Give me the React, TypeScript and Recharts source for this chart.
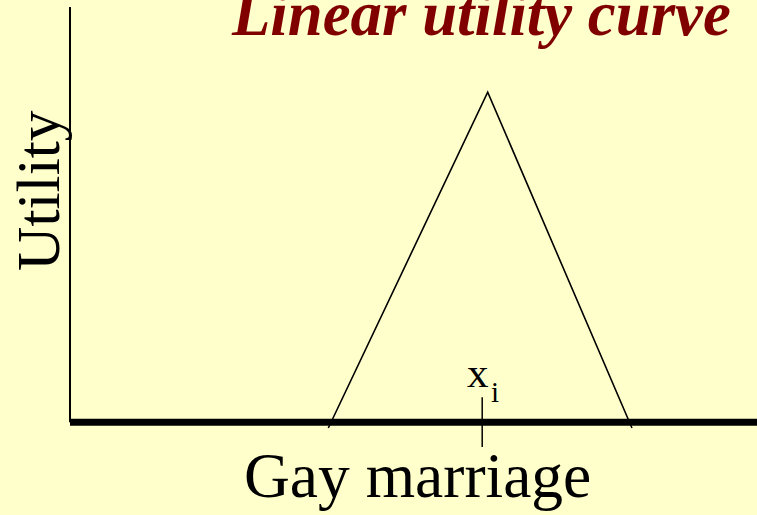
import React from 'react';
import { LineChart, Line, XAxis, YAxis, ReferenceLine, Customized } from 'recharts';

// Utility curve points (x = position on issue, y = utility)
const positions = [37.6, 60.8, 81.8];
const utilities = [-1.4, 79.5, -1.4];
const idealPoint = 60;
const tickTop = 6;
const tickBottom = -6;

const titleText = 'Linear utility curve';
const xLabel = 'Gay marriage';
const yLabel = 'Utility';

const data = positions.map((x, i) => ({ x, u: utilities[i] }));

const W = 757;
const H = 515;

const Texts = () => (
  <g>
    <text x={232} y={35} fill="#800000" fontFamily="'Liberation Serif', 'Times New Roman', serif" fontWeight="bold" fontStyle="italic" fontSize={62.8}>
      {titleText}
    </text>
    <text x={59} y={271} transform="rotate(-90 59 271)" fill="#000" fontFamily="'Liberation Serif', 'Times New Roman', serif" fontSize={61.5}>
      {yLabel}
    </text>
    <text x={244} y={497} fill="#000" fontFamily="'Liberation Serif', 'Times New Roman', serif" fontSize={63.5}>
      {xLabel}
    </text>
    <text x={467} y={387} fill="#000" fontFamily="'Liberation Serif', 'Times New Roman', serif" fontSize={43}>
      x
    </text>
    <text x={491} y={402} fill="#000" fontFamily="'Liberation Serif', 'Times New Roman', serif" fontSize={29}>
      i
    </text>
  </g>
);

export default function App() {
  return (
    <div style={{ position: 'absolute', left: 0, top: 0, width: W, height: H, background: '#FFFFCC', overflow: 'hidden' }}>
      <LineChart width={W} height={H} data={data} margin={{ top: 7, right: 0, bottom: 43, left: 70 }}>
        <XAxis type="number" dataKey="x" domain={[0, 100]} hide allowDataOverflow />
        <YAxis type="number" domain={[-12, 100]} hide allowDataOverflow />
        <ReferenceLine
          segment={[{ x: 0, y: 0 }, { x: 0, y: 100 }]}
          stroke="#000"
          strokeWidth={2}
          ifOverflow="visible"
        />
        <ReferenceLine y={0} stroke="#000" strokeWidth={7} ifOverflow="visible" />
        <ReferenceLine
          segment={[{ x: idealPoint, y: tickTop }, { x: idealPoint, y: tickBottom }]}
          stroke="#000"
          strokeWidth={1.5}
          ifOverflow="visible"
        />
        <Line
          type="linear"
          dataKey="u"
          stroke="#000"
          strokeWidth={1.6}
          dot={false}
          isAnimationActive={false}
        />
        <Customized component={Texts} />
      </LineChart>
    </div>
  );
}
